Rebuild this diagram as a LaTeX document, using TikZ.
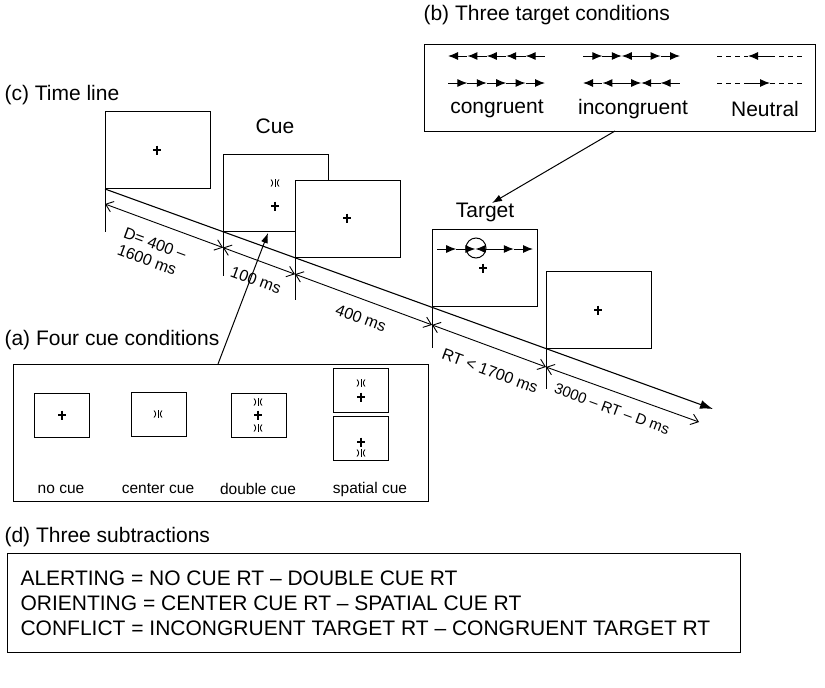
\documentclass[tikz,border=0pt]{standalone}
\usepackage{fontspec}
\setmainfont{Liberation Sans}
\usetikzlibrary{arrows.meta}
\newcommand\flankrow[4]{%
  \foreach \d [count=\i from 0] in {#4}{
    \draw[\d] ({#1+\i*#3/5},#2) -- ++({#3/5},0);
  }}
\begin{document}
\begin{tikzpicture}[x=1pt,y=-1pt,line width=1.1pt,
  big/.style={font=\fontsize{21}{25}\selectfont, inner sep=0pt},
  mid/.style={font=\fontsize{16}{18}\selectfont, inner sep=0pt},
  small/.style={font=\fontsize{15.5}{18}\selectfont, inner sep=0pt},
  screen/.style={draw, fill=white, minimum width=105pt, minimum height=77pt, inner sep=0pt, anchor=south west},
  minis/.style={draw, line width=1pt, minimum width=55pt, minimum height=44pt, inner sep=0pt, anchor=north west},
  panel/.style={draw, line width=1pt, inner sep=0pt, anchor=north west},
  fr/.style={line width=1pt, -{Latex[length=10pt,width=8pt]}},
  fl/.style={line width=1pt, {Latex[length=10pt,width=8pt]}-},
  dimarrow/.style={line width=0.9pt, {Straight Barb[length=7pt,width=11pt]}-{Straight Barb[length=7pt,width=11pt]}},
  ptr/.style={line width=1pt, -{Latex[length=10pt,width=7pt]}},
  tick/.style={line width=1pt},
  fixplus/.pic={\draw[line width=1.2pt] (-4,0) -- (4,0) (0,-4.5) -- (0,4.5);},
  cuesym/.pic={\draw[line width=0.9pt] (0,-4) -- (0,4);
                \draw[line width=0.8pt] (-4,-3.5) .. controls (-1.8,-1) and (-1.8,1) .. (-4,3.5);
                \draw[line width=0.8pt] (4,-3.5) .. controls (1.8,-1) and (1.8,1) .. (4,3.5);},
]
\useasboundingbox (0,0) rectangle (825,688);

% ---------- (b) Three target conditions ----------
\node[big, anchor=west] (lb) at (423,15) {(b) Three target conditions};
\node[panel, minimum width=391pt, minimum height=87pt] (bbox) at (424,44) {};
\flankrow{448}{56}{97}{fl,fl,fl,fl,fl}
\flankrow{448}{83}{97}{fr,fr,fr,fr,fr}
\flankrow{583}{56}{97}{fr,fr,fl,fr,fr}
\flankrow{583}{83}{97}{fl,fl,fr,fl,fl}
\draw[line width=0.9pt, dash pattern=on 5pt off 4pt] (717,56) -- (748,56) (770,56) -- (803,56);
\draw[fl] (748,56) -- (770,56);
\draw[line width=0.9pt, dash pattern=on 5pt off 4pt] (717,83) -- (748,83) (770,83) -- (803,83);
\draw[fr] (748,83) -- (770,83);
\node[big] (tc1) at (497,109) {congruent};
\node[big] (tc2) at (633,109) {incongruent};
\node[big] (tc3) at (765,109) {Neutral};

% ---------- (c) Time line ----------
\node[big, anchor=west] (lc) at (4,95) {(c) Time line};
\node[screen] (s1) at (105,189) {};
\pic at (157,150) {fixplus};
\node[big] (cuelab) at (275,126) {Cue};
\node[screen] (s2) at (223,231.7) {};
\pic at (275,183) {cuesym};
\pic at (275,206) {fixplus};
\node[screen] (s3) at (295,257.7) {};
\pic at (347,218) {fixplus};
\node[big] (tarlab) at (485,212) {Target};
\node[screen] (s4) at (432,307.3) {};
\flankrow{437}{249}{96}{fr,fr,fl,fr,fr}
\draw[line width=1pt] (476,248) circle (10);
\pic at (483,268) {fixplus};
\node[screen] (s5) at (546,348.6) {};
\pic at (598,310) {fixplus};

% main time arrow
\coordinate (tend) at (713,409);
\draw[line width=1.1pt, -{Latex[length=13pt,width=9pt]}] (s1.south west) -- (tend);

% ticks and dimension line
\coordinate (d1) at (105,204);
\coordinate (d2) at (223,247.6);
\coordinate (d3) at (295,274.2);
\coordinate (d4) at (432,324.9);
\coordinate (d5) at (546,367);
\coordinate (d6) at (699,422);
\coordinate (t1) at (105,232);
\coordinate (t2) at (223,276);
\coordinate (t3) at (295,300);
\coordinate (t4) at (432,348);
\coordinate (t5) at (546,389);
\draw[tick] (s1.south west) -- (t1);
\draw[tick] (s2.south west) -- (t2);
\draw[tick] (s3.south west) -- (t3);
\draw[tick] (s4.south west) -- (t4);
\draw[tick] (s5.south west) -- (t5);
\draw[dimarrow] (d1) -- (d2);
\draw[dimarrow] (d2) -- (d3);
\draw[dimarrow] (d3) -- (d4);
\draw[dimarrow] (d4) -- (d5);
\draw[dimarrow] (d5) -- (d6);
\node[mid, rotate=-20.3, align=left] (dl1) at (152,252) {D= 400 –\\1600 ms};
\node[mid, rotate=-20.3] (dl2) at (256,280) {100 ms};
\node[mid, rotate=-20.3] (dl3) at (361,318) {400 ms};
\node[mid, rotate=-20.3] (dl4) at (490,371) {RT < 1700 ms};
\node[mid, rotate=-20.3, font=\fontsize{15}{17}\selectfont] (dl5) at (612,409) {3000 – RT – D ms};

% ---------- (a) Four cue conditions ----------
\node[big, anchor=west] (la) at (4,340) {(a) Four cue conditions};
\node[panel, minimum width=415pt, minimum height=137pt] (abox) at (13,364) {};
\node[minis] (m1) at (34,393) {};
\pic at (62,415) {fixplus};
\node[minis] (m2) at (131,392) {};
\pic at (158,414) {cuesym};
\node[minis] (m3) at (231,393) {};
\pic at (258,402) {cuesym};
\pic at (258,415) {fixplus};
\pic at (258,428) {cuesym};
\node[minis] (m4) at (333,368) {};
\pic at (361,383) {cuesym};
\pic at (361,397) {fixplus};
\node[minis] (m5) at (333,416) {};
\pic at (361,442) {fixplus};
\pic at (361,453) {cuesym};
\node[small] (c1) at (61,489) {no cue};
\node[small] (c2) at (158,489) {center cue};
\node[small] (c3) at (258,489) {double cue};
\node[small] (c4) at (370,489) {spatial cue};

% pointers
\coordinate (pa) at (218,364);
\coordinate (pat) at (268,233);
\draw[ptr] (pa) -- (pat);
\coordinate (pb) at (615,131);
\coordinate (pbt) at (492,203);
\draw[ptr] (pb) -- (pbt);

% ---------- (d) Three subtractions ----------
\node[big, anchor=west] (ld) at (4,537) {(d) Three subtractions};
\node[panel, minimum width=733pt, minimum height=99pt] (dbox) at (7,553) {};
\node[big, anchor=west, align=left] (dtext) at (20,603) {ALERTING = NO CUE RT – DOUBLE CUE RT\\ORIENTING = CENTER CUE RT – SPATIAL CUE RT\\CONFLICT = INCONGRUENT TARGET RT – CONGRUENT TARGET RT};
\end{tikzpicture}
\end{document}
